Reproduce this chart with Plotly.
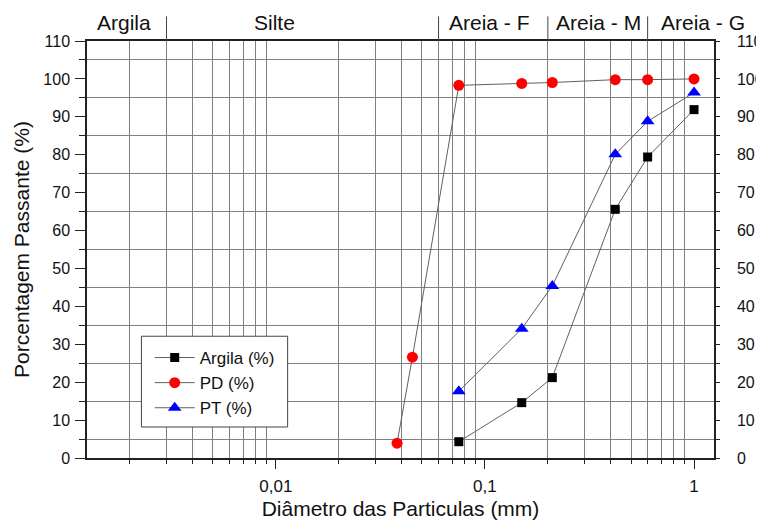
import math
import plotly.graph_objects as go

# Data
argila_x = [0.075, 0.15, 0.21, 0.42, 0.6, 1.0]
argila_y = [4.3, 14.6, 21.2, 65.6, 79.4, 91.9]
pd_x = [0.038, 0.045, 0.075, 0.15, 0.21, 0.42, 0.6, 1.0]
pd_y = [3.9, 26.6, 98.3, 98.8, 99.05, 99.8, 99.8, 100.0]
pt_x = [0.075, 0.15, 0.21, 0.42, 0.6, 1.0]
pt_y = [17.6, 34.1, 45.4, 80.1, 88.8, 96.4]

major_tickvals = [0.01, 0.1, 1]
major_ticktext = ["0,01", "0,1", "1"]
minor_tickvals = [k * 10.0 ** e for e in (-3, -2, -1) for k in range(2, 10)]

region_bounds = [0.003, 0.06, 0.2, 0.6]
region_labels = ["Argila", "Silte", "Areia - F", "Areia - M", "Areia - G"]
region_label_x = [0.00188, 0.0099, 0.105, 0.35, 1.107]

FONT = "Liberation Sans, Arial, sans-serif"
LINE = "#606060"
GRID = "#808080"

fig = go.Figure()
fig.add_trace(go.Scatter(x=argila_x, y=argila_y, name="Argila (%)", mode="lines+markers",
                         line=dict(color=LINE, width=1),
                         marker=dict(symbol="square", size=9, color="black")))
fig.add_trace(go.Scatter(x=pd_x, y=pd_y, name="PD (%)", mode="lines+markers",
                         line=dict(color=LINE, width=1),
                         marker=dict(symbol="circle", size=11, color="#ff0000")))
fig.add_trace(go.Scatter(x=pt_x, y=pt_y, name="PT (%)", mode="lines+markers",
                         line=dict(color=LINE, width=1),
                         marker=dict(symbol="triangle-up", size=12, color="#0000ff")))

shapes = []
for b in region_bounds:
    shapes.append(dict(type="line", xref="x", yref="paper", x0=b, x1=b, y0=1, y1=1.059,
                       line=dict(color="#444", width=1)))
# legend frame
shapes.append(dict(type="rect", xref="paper", yref="paper", x0=0.0868, x1=0.320,
                   y0=0.0743, y1=0.292, fillcolor="white",
                   line=dict(color="#444", width=1), layer="above"))

annotations = []
for lab, lx in zip(region_labels, region_label_x):
    annotations.append(dict(text=lab, x=math.log10(lx), xref="x", y=1.044, yref="paper",
                            showarrow=False, yanchor="middle", xanchor="center",
                            font=dict(family=FONT, size=21, color="#111")))

# page body has an 8px margin, so the figure is sized 8px smaller
fig.update_layout(
    width=756, height=512,
    margin=dict(l=79, r=50, t=33, b=62),
    paper_bgcolor="white", plot_bgcolor="white",
    font=dict(family=FONT, size=16, color="#111"),
    showlegend=True,
    legend=dict(x=0.1, y=0.283, xanchor="left", yanchor="top",
                borderwidth=0, bgcolor="rgba(0,0,0,0)",
                font=dict(family=FONT, size=17, color="#111"),
                tracegroupgap=0, itemwidth=40),
    shapes=shapes,
    annotations=annotations,
    xaxis=dict(type="log", range=[math.log10(0.00125), math.log10(1.246)],
               automargin=False,
               tickmode="array", tickvals=major_tickvals, ticktext=major_ticktext,
               ticks="outside", ticklen=9, tickwidth=1.2, tickcolor="#222",
               ticklabelstandoff=3,
               showgrid=False, zeroline=False,
               showline=True, linecolor="#222", linewidth=1.5, mirror=True,
               tickfont=dict(family=FONT, size=17, color="#111"),
               minor=dict(tickmode="array", tickvals=minor_tickvals, ticks="outside",
                          ticklen=4, tickcolor="#222", showgrid=True,
                          gridcolor=GRID, gridwidth=1),
               title=dict(text="Diâmetro das Particulas (mm)", standoff=8,
                          font=dict(family=FONT, size=21, color="#111"))),
    yaxis=dict(range=[0, 110], tickmode="linear", tick0=0, dtick=10,
               automargin=False,
               ticks="outside", ticklen=10, tickwidth=1.2, tickcolor="#222",
               ticklabelstandoff=2,
               showgrid=False, zeroline=False,
               showline=True, linecolor="#222", linewidth=1.5,
               tickfont=dict(family=FONT, size=16, color="#111"),
               minor=dict(dtick=5, ticks="outside", ticklen=6, tickcolor="#222",
                          showgrid=True, gridcolor=GRID, gridwidth=1),
               title=dict(text="Porcentagem Passante (%)", standoff=8,
                          font=dict(family=FONT, size=21, color="#111"))),
    yaxis2=dict(range=[0, 110], overlaying="y", side="right", anchor="x",
                automargin=False,
                tickmode="linear", tick0=0, dtick=10,
                ticks="outside", ticklen=4, tickwidth=1.2, tickcolor="#222",
                ticklabelstandoff=14,
                showgrid=False, zeroline=False,
                showline=True, linecolor="#222", linewidth=1.5,
                tickfont=dict(family=FONT, size=16, color="#111"),
                minor=dict(dtick=5, ticks="outside", ticklen=4, tickcolor="#222",
                           showgrid=False)),
)

# invisible trace so right axis renders
fig.add_trace(go.Scatter(x=[pd_x[-1]], y=[pd_y[-1]], yaxis="y2", mode="markers",
                         marker=dict(opacity=0), showlegend=False, hoverinfo="skip"))

fig.write_html("out.html")
